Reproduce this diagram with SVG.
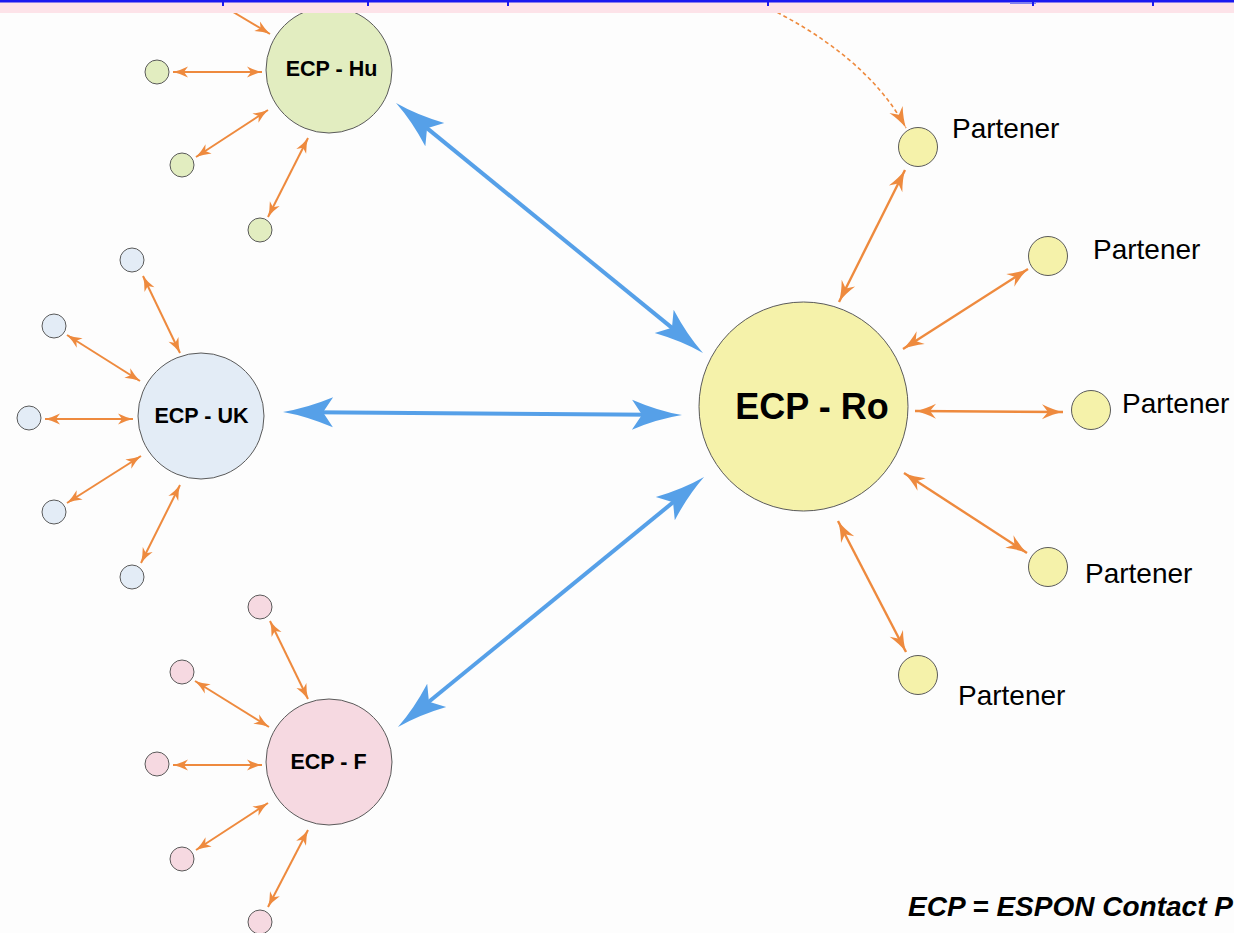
<svg xmlns="http://www.w3.org/2000/svg" width="1234" height="933" viewBox="0 0 1234 933">
<style>
.sat{stroke:#5a5a5a;stroke-width:1}
.hu{fill:#E2EDC0}
.uk{fill:#E3ECF6}
.fr{fill:#F6D9E1}
.ro{fill:#F5F2AA}
.lbl{font-family:"Liberation Sans",Arial,sans-serif;font-weight:bold;fill:#000;text-anchor:middle}
.pt{font-family:"Liberation Sans",Arial,sans-serif;font-size:28px;fill:#000}
.o{stroke:#EE8A3E;stroke-width:2;fill:none;marker-start:url(#os);marker-end:url(#os)}
.ol{stroke:#EE8A3E;stroke-width:2.4;fill:none;marker-start:url(#ol);marker-end:url(#ol)}
.b{stroke:#56A0E8;stroke-width:4;fill:none;marker-start:url(#bh);marker-end:url(#bh)}
</style>
<defs>
<marker id="os" markerUnits="userSpaceOnUse" viewBox="-17 -7 19 14" refX="0" refY="0" markerWidth="19" markerHeight="14" orient="auto-start-reverse">
<path d="M0,0 Q-7,-1.5 -15,-5.5 L-11,0 L-15,5.5 Q-7,1.5 0,0 Z" fill="#EE8A3E"/>
</marker>
<marker id="ol" markerUnits="userSpaceOnUse" viewBox="-24 -9 26 18" refX="0" refY="0" markerWidth="26" markerHeight="18" orient="auto-start-reverse">
<path d="M0,0 Q-10,-2 -21,-7.5 L-15,0 L-21,7.5 Q-10,2 0,0 Z" fill="#EE8A3E"/>
</marker>
<marker id="bh" markerUnits="userSpaceOnUse" viewBox="-22 -17 54 34" refX="0" refY="0" markerWidth="54" markerHeight="34" orient="auto-start-reverse">
<path d="M30,0 Q6,-4 -20,-15 L-10,0 L-20,15 Q6,4 30,0 Z" fill="#56A0E8"/>
</marker>
</defs>
<rect x="0" y="0" width="1234" height="933" fill="#FDFDFD"/>
<g id="connectors">
<line class="b" x1="419.3" y1="121.9" x2="679.7" y2="334.1"/>
<line class="b" x1="313" y1="412.2" x2="652" y2="414.8"/>
<line class="b" x1="421.2" y1="708" x2="680.8" y2="496"/>
<line class="o" x1="173" y1="72" x2="262" y2="72"/>
<line class="o" x1="196" y1="157" x2="268" y2="110"/>
<line class="o" x1="268" y1="217" x2="308" y2="138"/>
<line class="o" x1="213" y1="0" x2="270" y2="34"/>
<line class="o" x1="143" y1="276" x2="180" y2="353"/>
<line class="o" x1="67" y1="335" x2="140" y2="381"/>
<line class="o" x1="45" y1="419" x2="133" y2="419"/>
<line class="o" x1="67" y1="503" x2="141" y2="456"/>
<line class="o" x1="141" y1="563" x2="180" y2="485"/>
<line class="o" x1="270" y1="621" x2="308" y2="699"/>
<line class="o" x1="195" y1="681" x2="269" y2="727"/>
<line class="o" x1="173" y1="765" x2="262" y2="765"/>
<line class="o" x1="196" y1="850" x2="268" y2="803"/>
<line class="o" x1="268" y1="907" x2="308" y2="830"/>
<line class="ol" x1="905" y1="170" x2="839" y2="302"/>
<line class="ol" x1="1028" y1="269" x2="903" y2="349"/>
<line class="ol" x1="915" y1="411" x2="1063" y2="412"/>
<line class="ol" x1="904" y1="473" x2="1027" y2="553"/>
<line class="ol" x1="838" y1="521" x2="906" y2="652"/>
<path d="M752,0 Q865,52 906,128" stroke="#EE8A3E" stroke-width="1.6" stroke-dasharray="4 3" fill="none" marker-end="url(#ol)"/>
</g>
<g id="node-hu">
<circle class="sat hu" cx="329" cy="70" r="63"/>
<text class="lbl" x="331.5" y="76" font-size="21.5">ECP - Hu</text>
</g>
<g id="hu-sat-1"><circle class="sat hu" cx="157" cy="72" r="12"/></g>
<g id="hu-sat-2"><circle class="sat hu" cx="182" cy="165" r="12"/></g>
<g id="hu-sat-3"><circle class="sat hu" cx="260" cy="230" r="12"/></g>
<g id="node-uk">
<circle class="sat uk" cx="201" cy="416" r="63"/>
<text class="lbl" x="201.5" y="423" font-size="21.5">ECP - UK</text>
</g>
<g id="uk-sat-1"><circle class="sat uk" cx="132" cy="260" r="12"/></g>
<g id="uk-sat-2"><circle class="sat uk" cx="54" cy="326" r="12"/></g>
<g id="uk-sat-3"><circle class="sat uk" cx="29" cy="418" r="12"/></g>
<g id="uk-sat-4"><circle class="sat uk" cx="54" cy="512" r="12"/></g>
<g id="uk-sat-5"><circle class="sat uk" cx="132" cy="577" r="12"/></g>
<g id="node-f">
<circle class="sat fr" cx="329" cy="762" r="63"/>
<text class="lbl" x="328.5" y="769" font-size="21.5">ECP - F</text>
</g>
<g id="f-sat-1"><circle class="sat fr" cx="260" cy="607" r="12"/></g>
<g id="f-sat-2"><circle class="sat fr" cx="182" cy="672" r="12"/></g>
<g id="f-sat-3"><circle class="sat fr" cx="157" cy="764" r="12"/></g>
<g id="f-sat-4"><circle class="sat fr" cx="182" cy="859" r="12"/></g>
<g id="f-sat-5"><circle class="sat fr" cx="260" cy="922" r="12"/></g>
<g id="node-ro">
<circle class="sat ro" cx="803.5" cy="406.5" r="104.5"/>
<text class="lbl" x="812" y="419" font-size="36">ECP - Ro</text>
</g>
<g id="partener-1"><circle class="sat ro" cx="918" cy="147" r="19.5"/><text class="pt" x="952" y="138">Partener</text></g>
<g id="partener-2"><circle class="sat ro" cx="1048" cy="256" r="19.5"/><text class="pt" x="1093" y="259">Partener</text></g>
<g id="partener-3"><circle class="sat ro" cx="1091" cy="410" r="19.5"/><text class="pt" x="1122" y="413">Partener</text></g>
<g id="partener-4"><circle class="sat ro" cx="1048" cy="567" r="19.5"/><text class="pt" x="1085" y="583">Partener</text></g>
<g id="partener-5"><circle class="sat ro" cx="918" cy="675" r="19.5"/><text class="pt" x="958" y="705">Partener</text></g>
<g id="legend">
<text x="908" y="916" font-family="Liberation Sans, Arial, sans-serif" font-size="28" font-weight="bold" font-style="italic" fill="#000">ECP = ESPON Contact P</text>
</g>
<g id="top-band">
<rect x="0" y="0" width="1234" height="13" fill="#FDE3E9"/>
<rect x="0" y="0" width="1234" height="2.5" fill="#1A1AF0"/>
<rect x="222" y="2" width="2" height="4" fill="#1A1AF0"/>
<rect x="367" y="2" width="2" height="4" fill="#1A1AF0"/>
<rect x="507" y="2" width="2" height="4" fill="#1A1AF0"/>
<rect x="767" y="2" width="2" height="4" fill="#1A1AF0"/>
<rect x="1010" y="2" width="26" height="2" fill="#8080F0"/>
<rect x="1032" y="2" width="2" height="4" fill="#1A1AF0"/>
<rect x="1152" y="2" width="2" height="4" fill="#1A1AF0"/>
</g>
</svg>
